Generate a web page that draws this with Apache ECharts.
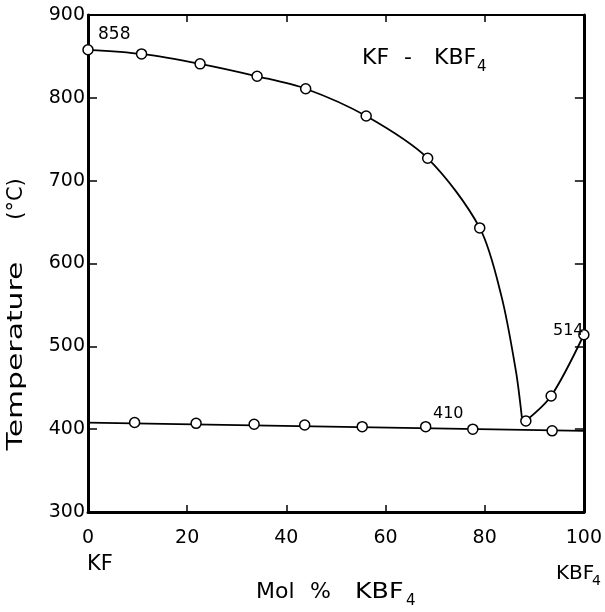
<!DOCTYPE html>
<html><head><meta charset="utf-8">
<script src="https://cdn.jsdelivr.net/npm/echarts@6/dist/echarts.min.js"></script>
<style>html,body{margin:0;padding:0;background:#fff}#c{width:605px;height:612px}</style>
</head><body><div id="c"></div>
<script>
// Measured liquidus points (KF side)
const liquidusX = [0, 10.8, 22.6, 34.1, 43.9, 56.1, 68.5, 79.0];
const liquidusT = [858, 853, 841, 826, 811, 778, 727, 643];
// Liquidus curve traced beyond the last measured point
const liquidusTraceX = [83.4, 86.3, 87.5];
const liquidusTraceT = [560, 470, 414];
// Eutectic point
const eutecticX = [88.3];
const eutecticT = [410];
// KBF4-side liquidus points
const kbf4X = [93.4, 100];
const kbf4T = [440, 514];
// Solidus (eutectic arrest) points
const solidusX = [9.4, 21.8, 33.5, 43.7, 55.3, 68.1, 77.6, 93.6];
const solidusT = [408, 407, 406, 405, 403, 403, 400, 398];
// Eutectic horizontal line ends
const eutLineX = [0, 100];
const eutLineT = [408, 398];
// Annotations
const labelMeltKF = '858';
const labelEutectic = '410';
const labelMeltKBF4 = '514';

const zip = (xs, ys) => xs.map((x, i) => [x, ys[i]]);
const F = 'DejaVu Sans';

const liqLine = zip(liquidusX, liquidusT).concat(zip(liquidusTraceX, liquidusTraceT));
const kbfLine = zip(eutecticX, eutecticT).concat(zip(kbf4X, kbf4T));
const allPts = zip(liquidusX, liquidusT).concat(zip(solidusX, solidusT), zip(eutecticX, eutecticT), zip(kbf4X, kbf4T));

const chart = echarts.init(document.getElementById('c'), null, {renderer: 'canvas'});
const axX = (pos, showLabel, lw) => ({
  type: 'value', position: pos, min: 0, max: 100, interval: 20,
  axisLine: {show: true, onZero: false, lineStyle: {color: '#000', width: lw}},
  axisTick: {show: true, inside: true, length: 7, lineStyle: {color: '#000', width: 1.5}},
  axisLabel: {show: showLabel, color: '#000', fontFamily: F, fontSize: 19, margin: 17},
  splitLine: {show: false}
});
const axY = (pos, showLabel, lw) => ({
  type: 'value', position: pos, min: 300, max: 900, interval: 100,
  axisLine: {show: true, onZero: false, lineStyle: {color: '#000', width: lw}},
  axisTick: {show: true, inside: true, length: 9, lineStyle: {color: '#000', width: 1.5}},
  axisLabel: {show: showLabel, color: '#000', fontFamily: F, fontSize: 19, margin: 3},
  splitLine: {show: false}
});
const txt = (t, left, top, size, extra) => Object.assign({
  type: 'text', left: left, top: top, z: 100,
  style: {text: t, fill: '#000', font: size + 'px "' + F + '"'}
}, extra || {});

chart.setOption({
  animation: false,
  backgroundColor: '#fff',
  grid: {left: 88, right: 18, top: 15, bottom: 100, containLabel: false},
  xAxis: [axX('bottom', true, 3), axX('top', false, 2)],
  yAxis: [axY('left', true, 3), axY('right', false, 3)],
  series: [
    {type: 'line', data: liqLine, smooth: 0.3, showSymbol: false,
     lineStyle: {color: '#000', width: 1.8}, z: 2},
    {type: 'line', data: kbfLine, smooth: 0.3, showSymbol: false,
     lineStyle: {color: '#000', width: 1.8}, z: 2},
    {type: 'line', data: zip(eutLineX, eutLineT), showSymbol: false,
     lineStyle: {color: '#000', width: 1.8}, z: 2},
    {type: 'scatter', data: allPts, symbol: 'circle', symbolSize: 10,
     itemStyle: {color: '#fff', borderColor: '#000', borderWidth: 1.5, opacity: 1}, z: 5}
  ],
  graphic: [
    txt(labelMeltKF, 98, 26, 17),
    txt(labelEutectic, 433, 406, 16),
    txt(labelMeltKBF4, 553, 323, 16),
    txt('KF', 362, 47, 22),
    txt('-', 404, 47, 22),
    txt('KBF', 434, 47, 22),
    txt('4', 477, 60, 15),
    txt('KF', 87, 554, 21),
    txt('KBF', 556, 564, 20),
    txt('4', 592, 574, 14),
    txt('Mol', 256, 581, 22),
    txt('%', 310, 581, 22),
    txt('KBF', 355, 581, 22, {scaleX: 1.15}),
    txt('4', 406, 594, 15),
    {type: 'text', x: 17, y: 356, rotation: Math.PI / 2, scaleX: 1.42, z: 100,
     style: {text: 'Temperature', fill: '#000', font: '21px "' + F + '"', align: 'center', verticalAlign: 'middle'}},
    {type: 'text', x: 17, y: 199, rotation: Math.PI / 2, z: 100,
     style: {text: '(°C)', fill: '#000', font: '21px "' + F + '"', align: 'center', verticalAlign: 'middle'}}
  ]
});
</script></body></html>
